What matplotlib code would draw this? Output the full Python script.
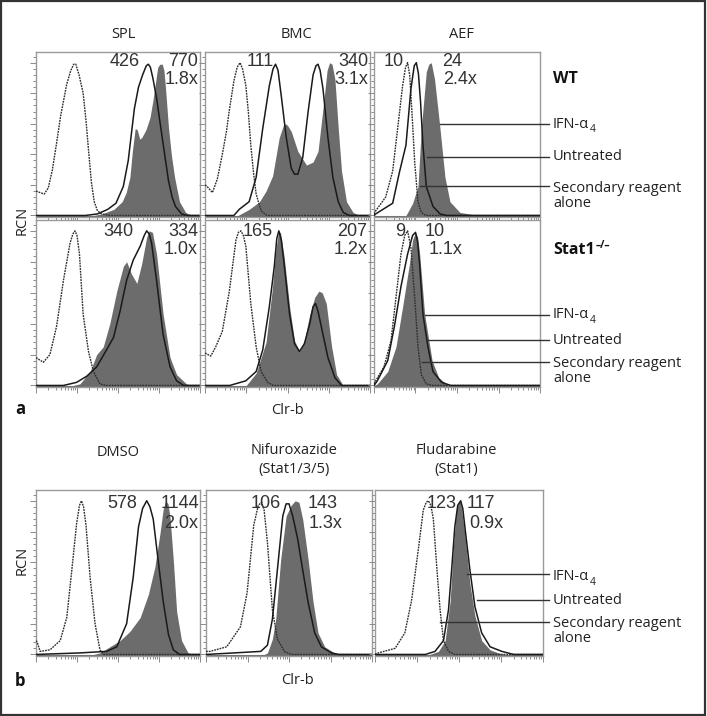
import numpy as np
import matplotlib
matplotlib.use('Agg')
import matplotlib.pyplot as plt
from matplotlib.lines import Line2D
from matplotlib.patches import Rectangle
from matplotlib.ticker import MultipleLocator, LogLocator, NullFormatter

# ---------------- data: (log10 decade, % of max) ----------------
SPL_WT_SEC = [(0,16),(0.1,15),(0.2,14),(0.3,18),(0.4,30),(0.5,47),(0.6,65),(0.75,86),(0.85,95),(0.92,99),(0.97,99),(1.05,92),(1.15,80),(1.22,62),(1.28,43),(1.35,22),(1.42,9),(1.5,3),(1.6,1),(1.8,0),(4,0)]
SPL_WT_UNT = [(0,0),(1.2,0),(1.5,1),(1.75,4),(1.95,8),(2.13,19),(2.25,36),(2.32,52),(2.4,70),(2.5,84),(2.6,92),(2.69,98),(2.74,99),(2.79,97),(2.85,90),(2.94,77),(3.03,60),(3.1,47),(3.23,23),(3.32,12),(3.4,6),(3.55,1),(3.7,0),(4,0)]
SPL_WT_IFN = [(0,0),(1.4,0),(1.6,1),(1.9,4),(2.1,9),(2.2,15),(2.29,25),(2.35,42),(2.42,57),(2.47,56),(2.53,50),(2.58,51),(2.68,56),(2.78,64),(2.85,75),(2.92,88),(2.97,97),(3.02,99),(3.08,99),(3.12,95),(3.16,83),(3.23,58),(3.3,40),(3.38,25),(3.5,9),(3.65,2),(3.8,0),(4,0)]

BMC_WT_SEC = [(0,20),(0.05,19),(0.18,15),(0.3,24),(0.42,40),(0.52,55),(0.585,68),(0.7,88),(0.78,97),(0.85,100),(0.91,96),(0.99,85),(1.05,68),(1.11,46),(1.18,27),(1.24,14),(1.36,3),(1.5,0),(4,0)]
BMC_WT_UNT = [(0,0),(0.7,0),(0.83,4),(1.07,9),(1.24,25),(1.4,57),(1.56,85),(1.65,96),(1.71,99),(1.77,95),(1.85,78),(1.97,51),(2.09,31),(2.17,27),(2.25,27),(2.37,38),(2.5,68),(2.62,92),(2.69,98),(2.74,99),(2.79,95),(2.86,83),(2.98,51),(3.1,25),(3.23,9),(3.35,2),(3.5,0),(4,0)]
BMC_WT_IFN = [(0,0),(0.8,0),(1.07,4),(1.32,9),(1.48,16),(1.64,26),(1.8,51),(1.9,59),(1.95,60),(2.0,59),(2.09,55),(2.25,42),(2.46,33),(2.62,35),(2.74,42),(2.86,70),(2.96,95),(3.02,100),(3.08,99),(3.15,89),(3.23,57),(3.31,29),(3.43,9),(3.59,2),(3.75,0),(4,0)]

AEF_WT_SEC = [(0,1),(0.04,3),(0.28,12),(0.45,29),(0.57,57),(0.69,85),(0.76,97),(0.81,100),(0.86,92),(0.92,65),(0.98,35),(1.06,9),(1.14,2),(1.25,0),(4,0)]
AEF_WT_UNT = [(0,0),(0.04,1),(0.45,8),(0.61,28),(0.77,46),(0.89,83),(0.97,98),(1.02,100),(1.07,93),(1.12,75),(1.18,46),(1.26,19),(1.42,6),(1.59,1),(1.75,0),(4,0)]
AEF_WT_IFN = [(0,0),(0.77,0),(0.93,8),(1.06,19),(1.14,57),(1.26,94),(1.32,99),(1.38,100),(1.46,89),(1.59,57),(1.71,25),(1.83,9),(2.07,2),(2.4,0.5),(2.6,0),(4,0)]

SPL_KO_SEC = [(0,18),(0.06,17),(0.18,15),(0.34,20),(0.5,38),(0.67,68),(0.83,92),(0.9,98),(0.95,100),(1.0,97),(1.06,85),(1.15,46),(1.28,22),(1.4,9),(1.56,1),(1.7,0),(4,0)]
SPL_KO_UNT = [(0,0),(0.67,0),(0.99,2),(1.24,6),(1.48,12),(1.72,23),(1.89,31),(2.05,48),(2.21,68),(2.37,81),(2.54,90),(2.64,97),(2.7,100),(2.76,98),(2.82,92),(2.94,68),(3.1,33),(3.27,12),(3.43,3),(3.6,0),(4,0)]
SPL_KO_IFN = [(0,0),(0.9,0),(1.07,1),(1.32,9),(1.48,20),(1.64,25),(1.8,40),(1.97,61),(2.13,77),(2.21,80),(2.33,72),(2.46,66),(2.58,79),(2.7,96),(2.76,100),(2.84,99),(2.94,85),(3.1,46),(3.27,18),(3.43,7),(3.67,1),(3.8,0),(4,0)]

BMC_KO_SEC = [(0,21),(0.14,19),(0.26,25),(0.42,35),(0.59,61),(0.75,94),(0.81,99),(0.87,100),(0.93,97),(0.99,90),(1.11,53),(1.24,25),(1.36,9),(1.52,2),(1.65,0),(4,0)]
BMC_KO_UNT = [(0,0),(0.6,0),(0.99,3),(1.24,9),(1.4,23),(1.56,51),(1.68,77),(1.74,95),(1.79,100),(1.85,94),(1.92,78),(2.05,46),(2.17,27),(2.29,22),(2.41,27),(2.54,40),(2.62,51),(2.68,53),(2.74,48),(2.86,33),(2.98,18),(3.15,5),(3.31,0),(4,0)]
BMC_KO_IFN = [(0,0),(1.0,0),(1.24,8),(1.48,28),(1.63,62),(1.72,88),(1.78,99),(1.83,99),(1.92,83),(2.05,51),(2.17,29),(2.29,22),(2.41,29),(2.54,46),(2.66,57),(2.76,61),(2.84,60),(2.94,53),(3.07,25),(3.19,7),(3.35,0),(4,0)]

AEF_KO_SEC = [(0,1),(0.04,3),(0.24,12),(0.41,29),(0.53,57),(0.65,85),(0.74,97),(0.81,100),(0.89,89),(0.98,57),(1.06,25),(1.14,7),(1.26,1),(1.4,0),(4,0)]
AEF_KO_UNT = [(0,0),(0.08,3),(0.33,16),(0.49,38),(0.65,64),(0.81,85),(0.93,97),(1.0,99),(1.05,93),(1.1,78),(1.18,46),(1.3,25),(1.42,9),(1.63,2),(1.85,0),(4,0)]
AEF_KO_IFN = [(0,0),(0.08,1),(0.33,9),(0.53,25),(0.69,51),(0.85,78),(0.93,94),(1.0,99),(1.05,96),(1.1,85),(1.22,46),(1.4,16),(1.56,5),(1.79,0),(4,0)]

DMSO_SEC = [(0,9),(0.03,8),(0.1,2),(0.34,3),(0.59,9),(0.75,24),(0.87,54),(0.99,85),(1.06,97),(1.11,100),(1.16,96),(1.22,84),(1.32,50),(1.44,20),(1.56,3),(1.65,0),(4,0)]
DMSO_UNT = [(0,0),(1.07,1),(1.72,2),(1.97,5),(2.21,20),(2.37,50),(2.5,83),(2.6,95),(2.7,100),(2.78,96),(2.86,88),(2.98,61),(3.1,35),(3.23,13),(3.35,3),(3.5,0),(4,0)]
DMSO_IFN = [(0,0),(1.4,0),(1.56,1),(1.8,5),(2.05,9),(2.29,15),(2.54,24),(2.74,39),(2.9,57),(3.02,78),(3.1,94),(3.16,100),(3.22,98),(3.27,89),(3.35,61),(3.43,28),(3.55,9),(3.71,1),(3.85,0),(4,0)]

NIF_SEC = [(0,2),(0.1,2),(0.5,5),(0.83,18),(0.99,40),(1.15,84),(1.26,97),(1.34,99),(1.4,94),(1.48,73),(1.6,29),(1.72,10),(1.89,2),(2.05,0),(4,0)]
NIF_UNT = [(0,0),(0.67,1),(1.32,2),(1.48,6),(1.6,23),(1.72,55),(1.85,90),(1.93,98),(2.0,98),(2.09,90),(2.21,75),(2.33,55),(2.46,34),(2.62,14),(2.78,5),(3.02,1),(3.2,0),(4,0)]
NIF_IFN = [(0,0),(1.4,0),(1.48,1),(1.6,10),(1.68,23),(1.8,62),(1.93,90),(2.05,97),(2.15,100),(2.24,99),(2.33,88),(2.46,62),(2.58,34),(2.7,14),(2.86,5),(3.1,1),(3.3,0),(4,0)]

FLU_SEC = [(0,0),(0.08,1),(0.48,4),(0.71,14),(0.87,35),(1.03,68),(1.15,94),(1.22,99),(1.27,100),(1.33,97),(1.39,88),(1.47,57),(1.55,29),(1.63,9),(1.75,2),(1.9,0),(4,0)]
FLU_UNT = [(0,0),(1.2,0),(1.43,2),(1.63,9),(1.75,29),(1.83,57),(1.9,83),(1.97,97),(2.04,100),(2.09,95),(2.14,83),(2.26,55),(2.38,31),(2.54,14),(2.74,5),(3.02,2),(3.3,0),(4,0)]
FLU_IFN = [(0,0),(1.3,0),(1.51,2),(1.67,9),(1.79,35),(1.86,68),(1.94,94),(1.99,99),(2.04,99),(2.14,78),(2.26,46),(2.38,25),(2.54,9),(2.74,3),(2.94,1),(3.1,0),(4,0)]

# MFI annotations
MFI_LEFT = ["426", "111", "10", "340", "165", "9", "578", "106", "123"]
MFI_RIGHT = ["770", "340", "24", "334", "207", "10", "1144", "143", "117"]
FOLD = ["1.8x", "3.1x", "2.4x", "1.0x", "1.2x", "1.1x", "2.0x", "1.3x", "0.9x"]

COL_TITLES_A = ["SPL", "BMC", "AEF"]
COL_TITLES_B = ["DMSO", "Nifuroxazide\n(Stat1/3/5)", "Fludarabine\n(Stat1)"]
LEGEND = ["IFN-α", "Untreated", "Secondary reagent\nalone"]

# ---------------- layout ----------------
W, H = 707, 716
fig = plt.figure(figsize=(W / 100, H / 100), dpi=100)
fig.patch.set_facecolor('white')

def box(l, t, r, b):
    return [l / W, 1 - b / H, (r - l) / W, (b - t) / H]

def fx(px):
    return px / W

def fy(py):
    return 1 - py / H

LAB = ['Open Sans', 'DejaVu Sans']
NUM = ['Liberation Sans', 'DejaVu Sans']
LFS = 10.5

panels = [
    ((36, 52, 200, 217), SPL_WT_SEC, SPL_WT_UNT, SPL_WT_IFN),
    ((205, 52, 370, 217), BMC_WT_SEC, BMC_WT_UNT, BMC_WT_IFN),
    ((374, 52, 540, 217), AEF_WT_SEC, AEF_WT_UNT, AEF_WT_IFN),
    ((36, 220, 200, 387), SPL_KO_SEC, SPL_KO_UNT, SPL_KO_IFN),
    ((205, 220, 370, 387), BMC_KO_SEC, BMC_KO_UNT, BMC_KO_IFN),
    ((374, 220, 540, 387), AEF_KO_SEC, AEF_KO_UNT, AEF_KO_IFN),
    ((36, 490, 200, 656), DMSO_SEC, DMSO_UNT, DMSO_IFN),
    ((206, 490, 372, 656), NIF_SEC, NIF_UNT, NIF_IFN),
    ((375, 490, 543, 656), FLU_SEC, FLU_UNT, FLU_IFN),
]

def xy(curve):
    a = np.array(curve, dtype=float)
    return 10 ** a[:, 0], a[:, 1]

for (bx, sec, unt, ifn) in panels:
    ax = fig.add_axes(box(*bx))
    x, y = xy(ifn)
    ax.fill_between(x, y, -1, color='#6c6c6c', lw=0, zorder=2)
    x, y = xy(sec)
    ax.plot(x, y, color='#2e2e2e', lw=1.0, ls=(0, (1.3, 0.7)), zorder=3, solid_joinstyle='round')
    x, y = xy(unt)
    ax.plot(x, y, color='#1a1a1a', lw=1.1, zorder=4, solid_joinstyle='round')
    ax.set_xscale('log')
    ax.set_xlim(1, 1e4)
    ax.set_ylim(-1, 107)
    ax.xaxis.set_major_locator(LogLocator(base=10, numticks=10))
    ax.xaxis.set_minor_locator(LogLocator(base=10, subs=np.arange(2, 10), numticks=50))
    ax.xaxis.set_minor_formatter(NullFormatter())
    ax.yaxis.set_major_locator(MultipleLocator(20))
    ax.yaxis.set_minor_locator(MultipleLocator(4))
    ax.tick_params(which='both', direction='out', color='#8a8a8a', width=0.7,
                   labelleft=False, labelbottom=False)
    ax.tick_params(which='major', length=4)
    ax.tick_params(which='minor', length=2)
    for s in ax.spines.values():
        s.set_color('#9a9a9a')
        s.set_linewidth(1.0)

# ---------------- MFI numbers ----------------
num_pos = [  # (left-number right edge, right-number right edge, y of numbers, y of fold)
    (140, 198, 62, 80), (274, 368, 62, 80), (404, 462, 62, 80),
    (133, 198, 232, 250), (273, 367, 232, 250), (405, 445, 232, 250),
    (137, 199, 503, 523), (281, 338, 503, 523), (457, 495, 503, 523),
]
fold_right = [198, 368, 477, 198, 367, 462, 198, 343, 503]
NFS = 13
for i, (lr, rr, yn, yf) in enumerate(num_pos):
    fig.text(fx(lr), fy(yn), MFI_LEFT[i], ha='right', va='center', fontsize=NFS,
             family=NUM, color='#333333')
    fig.text(fx(rr), fy(yn), MFI_RIGHT[i], ha='right', va='center', fontsize=NFS,
             family=NUM, color='#333333')
    fig.text(fx(fold_right[i]), fy(yf), FOLD[i], ha='right', va='center', fontsize=NFS,
             family=NUM, color='#333333')

# ---------------- titles ----------------
for cx, t in zip([123, 297, 461], COL_TITLES_A):
    fig.text(fx(cx), fy(35), t, ha='center', va='center', fontsize=LFS, family=LAB, color='#222')
for cx, t in zip([118, 294, 456], COL_TITLES_B):
    yy = 453 if '\n' not in t else 460
    fig.text(fx(cx), fy(yy), t, ha='center', va='center', fontsize=LFS, family=LAB,
             color='#222', linespacing=1.3)

fig.text(fx(22), fy(220), "RCN", rotation=90, ha='center', va='center', fontsize=LFS, family=LAB, color='#222')
fig.text(fx(22), fy(560), "RCN", rotation=90, ha='center', va='center', fontsize=LFS, family=LAB, color='#222')
fig.text(fx(288), fy(410), "Clr-b", ha='center', va='center', fontsize=LFS, family=LAB, color='#222')
fig.text(fx(298), fy(681), "Clr-b", ha='center', va='center', fontsize=LFS, family=LAB, color='#222')
fig.text(fx(15), fy(409), "a", ha='left', va='center', fontsize=12, family=LAB, weight='bold', color='#111')
fig.text(fx(15), fy(681), "b", ha='left', va='center', fontsize=12, family=LAB, weight='bold', color='#111')

fig.text(fx(553), fy(79), "WT", ha='left', va='center', fontsize=11.5, family=LAB, weight='bold', color='#111')
st = fig.text(fx(553), fy(250), "Stat1", ha='left', va='center', fontsize=11.5, family=LAB, weight='bold', color='#111')
plt.annotate("–/–", xy=(1, 1), xycoords=st, xytext=(0.5, 1.5), textcoords='offset points',
             ha='left', va='top', fontsize=7.5, family=LAB, weight='bold', color='#111',
             annotation_clip=False)

# ---------------- legend leaders ----------------
leaders = [
    ([(440, 124), (427, 157), (420, 186)], [124, 157, 196]),
    ([(425, 315), (428, 340), (422, 362)], [315, 340, 371]),
    ([(467, 574), (477, 600), (440, 622)], [577, 600, 631]),
]
for starts, lab_y in leaders:
    for (xs, ys), ly, txt in zip(starts, lab_y, LEGEND):
        fig.add_artist(Line2D([fx(xs), fx(549)], [fy(ys), fy(ys)], transform=fig.transFigure,
                              color='#333333', lw=1.0))
        t = fig.text(fx(553), fy(ly), txt, ha='left', va='center', fontsize=LFS, family=LAB,
                     color='#222', linespacing=1.05)
        if txt.startswith("IFN"):
            plt.annotate("4", xy=(1, 0), xycoords=t, xytext=(0.3, 1.5), textcoords='offset points',
                         ha='left', va='center', fontsize=7.5, family=LAB, color='#222',
                         annotation_clip=False)

# ---------------- outer frame ----------------
fig.add_artist(Rectangle((1 / W, 1 / H), 704 / W, 714 / H, transform=fig.transFigure,
                         fill=False, edgecolor='#333333', lw=1.6))

fig.savefig('out.png', dpi=100)
